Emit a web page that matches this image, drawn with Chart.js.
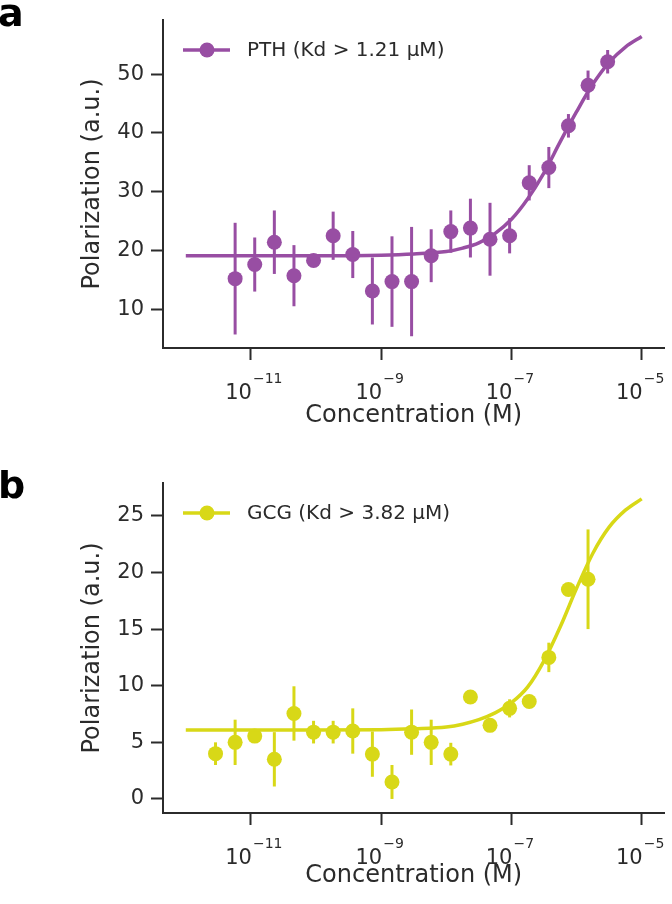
<!DOCTYPE html>
<html>
<head>
<meta charset="utf-8">
<script src="https://cdn.jsdelivr.net/npm/chart.js@4.4.0/dist/chart.umd.min.js"></script>
<style>
body{margin:0;background:#fff;}
.panel{position:absolute;left:0;width:672px;height:452px;}
</style>
</head>
<body>
<div class="panel" style="top:0"><canvas id="chartA"></canvas></div>
<div class="panel" style="top:452px"><canvas id="chartB"></canvas></div>
<script>
// 2-fold dilution series (M)
var concA = [5.72e-12, 1.144e-11, 2.289e-11, 4.578e-11, 9.155e-11, 1.831e-10, 3.662e-10, 7.324e-10, 1.465e-9, 2.93e-9,
             5.859e-9, 1.172e-8, 2.344e-8, 4.688e-8, 9.375e-8, 1.875e-7, 3.75e-7, 7.5e-7, 1.5e-6, 3e-6];
var polA = [15.2, 17.6, 21.4, 15.7, 18.3, 22.5, 19.3, 13.1, 14.7, 14.7, 19.1, 23.2, 23.8, 21.9, 22.5, 31.5, 34.1, 41.2, 48.1, 52.1];
var errA = [9.5, 4.6, 5.4, 5.2, 1.0, 4.1, 4.0, 5.7, 7.7, 9.3, 4.5, 3.6, 5.0, 6.2, 3.0, 3.0, 3.5, 2.0, 2.5, 2.0];

var concB = [2.861e-12, 5.72e-12, 1.144e-11, 2.289e-11, 4.578e-11, 9.155e-11, 1.831e-10, 3.662e-10, 7.324e-10, 1.465e-9,
             2.93e-9, 5.859e-9, 1.172e-8, 2.344e-8, 4.688e-8, 9.375e-8, 1.875e-7, 3.75e-7, 7.5e-7, 1.5e-6];
var polB = [4.0, 5.0, 5.55, 3.5, 7.55, 5.9, 5.9, 6.0, 3.96, 1.5, 5.9, 5.0, 3.96, 9.0, 6.5, 8.0, 8.6, 12.5, 18.5, 19.4];
var errB = [1.0, 2.0, 0.5, 2.4, 2.4, 1.0, 1.0, 2.0, 2.0, 1.5, 2.0, 2.0, 1.0, 0.3, 0.3, 0.8, 0.3, 1.3, 0.4, 4.4];

// fitted binding curves
var fitConc = [1e-12, 1e-11, 1e-10, 1e-9, 3.16e-9, 1e-8, 1.78e-8, 3.16e-8, 5.62e-8, 1e-7,
               1.78e-7, 3.16e-7, 5.62e-7, 1e-6, 1.78e-6, 3.16e-6, 5.62e-6, 1e-5];
var fitA = [19.1, 19.1, 19.1, 19.2, 19.4, 19.8, 20.4, 21.3, 22.9, 25.3, 28.8, 33.2, 38.5, 43.6, 48.3, 52.0, 54.6, 56.4];
var fitB = [6.1, 6.1, 6.1, 6.12, 6.2, 6.35, 6.6, 7.0, 7.6, 8.5, 9.9, 12.2, 15.2, 18.6, 21.7, 24.0, 25.5, 26.5];

var xTicks = [1e-11, 1e-9, 1e-7, 1e-5];
var xTickExp = ['\u221211', '\u22129', '\u22127', '\u22125'];
var yTicksA = [10, 20, 30, 40, 50];
var yTicksB = [0, 5, 10, 15, 20, 25];

var ink = '#2b2b2b';
Chart.defaults.font.family = '"DejaVu Sans", sans-serif';

var panelDeco = {
  id: 'panelDeco',
  beforeDatasetsDraw: function(chart, args, o) {
    var ctx = chart.ctx, xs = chart.scales.x, ys = chart.scales.y;
    ctx.save();
    ctx.strokeStyle = o.color;
    ctx.lineWidth = 3;
    for (var i = 0; i < o.conc.length; i++) {
      var px = xs.getPixelForValue(o.conc[i]);
      ctx.beginPath();
      ctx.moveTo(px, ys.getPixelForValue(o.pol[i] - o.err[i]));
      ctx.lineTo(px, ys.getPixelForValue(o.pol[i] + o.err[i]));
      ctx.stroke();
    }
    ctx.restore();
  },
  afterDraw: function(chart, args, o) {
    var ctx = chart.ctx, xs = chart.scales.x, area = chart.chartArea;
    ctx.save();
    ctx.fillStyle = ink;
    ctx.textBaseline = 'alphabetic';
    // x tick labels 10^n
    for (var i = 0; i < xTicks.length; i++) {
      var px = xs.getPixelForValue(xTicks[i]);
      ctx.font = '21px "DejaVu Sans"';
      ctx.textAlign = 'right';
      ctx.fillText('10', px + 1, area.bottom + 51);
      ctx.font = '14px "DejaVu Sans"';
      ctx.textAlign = 'left';
      ctx.fillText(xTickExp[i], px + 2, area.bottom + 35);
    }
    // legend
    var ly = area.top + 30;
    ctx.strokeStyle = o.color;
    ctx.lineWidth = 3.5;
    ctx.beginPath();
    ctx.moveTo(183, ly);
    ctx.lineTo(230, ly);
    ctx.stroke();
    ctx.fillStyle = o.color;
    ctx.beginPath();
    ctx.arc(207, ly, 7.5, 0, Math.PI * 2);
    ctx.fill();
    ctx.fillStyle = ink;
    ctx.font = '20px "DejaVu Sans"';
    ctx.textAlign = 'left';
    ctx.textBaseline = 'middle';
    ctx.fillText(o.label, 247, ly + 1);
    // panel letter
    ctx.fillStyle = '#000';
    ctx.font = 'bold 38px "DejaVu Sans"';
    ctx.textBaseline = 'alphabetic';
    ctx.fillText(o.letter, -2, o.letterY);
    ctx.restore();
  }
};

function makeChart(id, conc, pol, err, fitY, color, label, letter, letterY, yMin, yMax, yTicks, padTop, xHeight, xTitlePad) {
  new Chart(document.getElementById(id), {
    type: 'line',
    data: {
      datasets: [{
        data: fitConc.map(function(c, i) { return {x: c, y: fitY[i]}; }),
        borderColor: color,
        borderWidth: 3.5,
        pointRadius: 0,
        cubicInterpolationMode: 'monotone',
        fill: false
      }, {
        data: conc.map(function(c, i) { return {x: c, y: pol[i]}; }),
        showLine: false,
        pointRadius: 7.5,
        pointBackgroundColor: color,
        pointBorderWidth: 0,
        borderColor: color
      }]
    },
    options: {
      responsive: true,
      maintainAspectRatio: false,
      animation: false,
      layout: {padding: {top: padTop, right: 2, left: 0, bottom: 0}},
      plugins: {
        legend: {display: false},
        tooltip: {enabled: false},
        panelDeco: {conc: conc, pol: pol, err: err, color: color, label: label, letter: letter, letterY: letterY}
      },
      scales: {
        x: {
          type: 'logarithmic',
          min: Math.pow(10, -12.35),
          max: Math.pow(10, -4.65),
          afterBuildTicks: function(s) { s.ticks = xTicks.map(function(v) { return {value: v}; }); },
          afterFit: function(s) { s.height = xHeight; },
          ticks: {display: false},
          grid: {drawOnChartArea: false, drawTicks: true, tickLength: 12, tickWidth: 2, tickColor: ink},
          border: {display: true, width: 2, color: ink},
          title: {display: true, text: 'Concentration (M)', color: ink, font: {size: 24}, padding: {top: 0, bottom: xTitlePad}}
        },
        y: {
          type: 'linear',
          min: yMin,
          max: yMax,
          afterBuildTicks: function(s) { s.ticks = yTicks.map(function(v) { return {value: v}; }); },
          afterFit: function(s) { s.width = 163; },
          ticks: {color: ink, font: {size: 21}, padding: 7},
          grid: {drawOnChartArea: false, drawTicks: true, tickLength: 12, tickWidth: 2, tickColor: ink},
          border: {display: true, width: 2, color: ink},
          title: {display: true, text: 'Polarization (a.u.)', color: ink, font: {size: 24}, padding: {top: 78, bottom: 0}}
        }
      }
    },
    plugins: [panelDeco]
  });
}

makeChart('chartA', concA, polA, errA, fitA, '#984ea3', 'PTH (Kd > 1.21 \u03bcM)', 'a', 26,
          3.4, 59.2, yTicksA, 20, 104, 22);
makeChart('chartB', concB, polB, errB, fitB, '#d8d817', 'GCG (Kd > 3.82 \u03bcM)', 'b', 46,
          -1.24, 27.9, yTicksB, 31, 91, 14);
</script>
</body>
</html>
